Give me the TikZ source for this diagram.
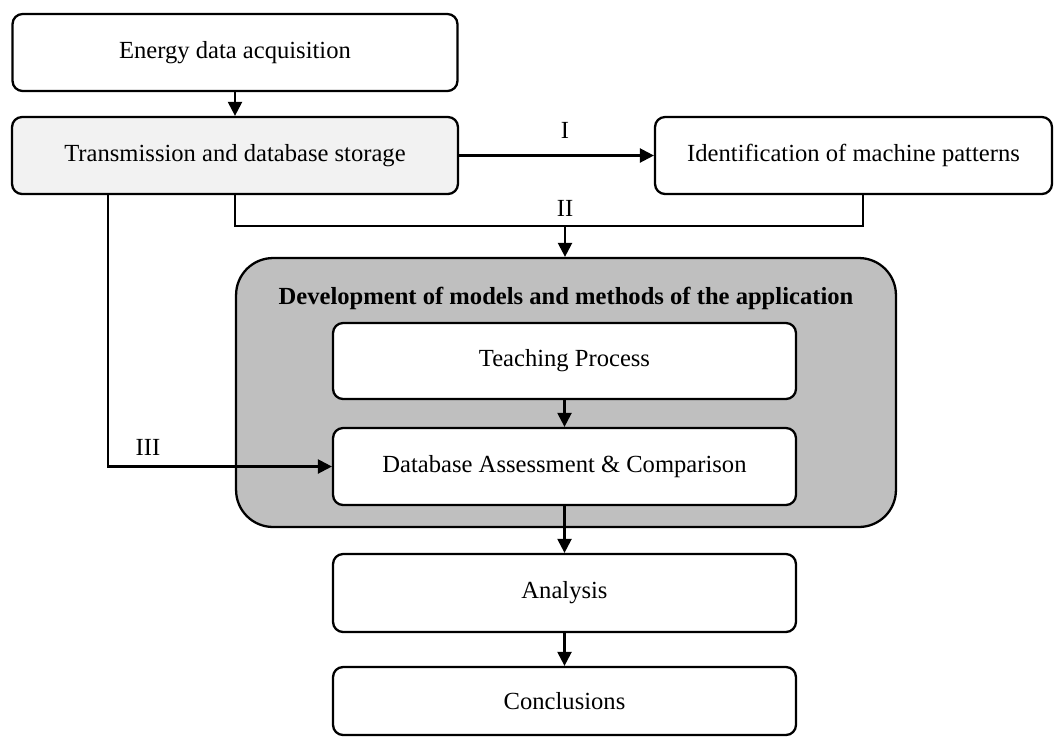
\documentclass[tikz,border=0pt]{standalone}
\usepackage{fontspec}
\setmainfont{Liberation Serif}
\usetikzlibrary{arrows.meta}
\definecolor{devgray}{HTML}{BFBFBF}
\definecolor{storegray}{HTML}{F2F2F2}

\begin{document}
\begin{tikzpicture}[x=0.02cm,y=-0.02cm,
    box/.style={draw,fill=white,line width=1.3pt,rounded corners=0.2cm,minimum height=1.54cm,inner sep=0pt,font=\fontsize{14}{17}\selectfont},
    arr/.style={line width=1.3pt,-{Triangle[length=0.28cm,width=0.28cm]}},
    lbl/.style={font=\fontsize{14}{17}\selectfont}]
    \useasboundingbox (0,0) rectangle (1060,738);

    % grey frame of the application
    \node[box,fill=devgray,rounded corners=0.74cm,minimum width=13.2cm,minimum height=5.38cm] (dev) at (566,392.5) {};
    \node[font=\bfseries\fontsize{14}{17}\selectfont] (devtitle) at (566,298) {Development of models and methods of the application};

    \node[box,minimum width=8.9cm] (energy) at (235,52.5) {Energy data acquisition};
    \node[box,fill=storegray,minimum width=8.92cm] (store) at (235,155.5) {Transmission and database storage};
    \node[box,minimum width=7.94cm] (ident) at (853.5,155.5) {Identification of machine patterns};

    \node[box,minimum width=9.26cm,minimum height=1.52cm] (teach) at (564.5,361) {Teaching Process};
    \node[box,minimum width=9.26cm] (assess) at (564.5,466.5) {Database Assessment \& Comparison};
    \node[box,minimum width=9.26cm,minimum height=1.56cm] (analysis) at (564.5,593) {Analysis};
    \node[box,minimum width=9.26cm,minimum height=1.36cm] (concl) at (564.5,701) {Conclusions};

    \coordinate (identfoot) at (863,194);
    \coordinate (iijoin) at (565,226);
    \coordinate (iiistart) at (108,194);

    \draw[arr] (energy) -- (store);
    \draw[arr] (store.east) -- (ident.west);
    \node[lbl] (lbli) at (565,130) {I};

    \draw[line width=1.3pt] (store.south) |- (iijoin) -| (identfoot);
    \draw[arr] (iijoin) -- (iijoin |- dev.north);
    \node[lbl] (lblii) at (565,208) {II};

    \draw[arr] (iiistart) |- (assess.west);
    \node[lbl] (lbliii) at (148,447) {III};

    \draw[arr] (teach) -- (assess);
    \draw[arr] (assess) -- (analysis);
    \draw[arr] (analysis) -- (concl);
\end{tikzpicture}
\end{document}
